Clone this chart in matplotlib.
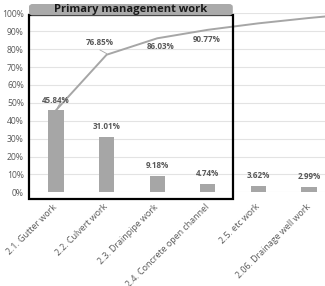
import numpy as np
import matplotlib.pyplot as plt
from matplotlib.patches import Rectangle, FancyBboxPatch
from matplotlib.transforms import ScaledTranslation

plt.rcParams['font.family'] = ['Open Sans', 'DejaVu Sans']

categories = ["2.1. Gutter work", "2.2. Culvert work", "2.3. Drainpipe work",
              "2.4. Concrete open channel", "2.5. etc work", "2.06. Drainage well work"]
share = [45.84, 31.01, 9.18, 4.74, 3.62, 2.99]
# cumulative share; the last point (remaining items) lies off the right edge
cumulative = [45.84, 76.85, 86.03, 90.77, 94.39, 97.38, 100.0]
cum_labels = ["76.85%", "86.03%", "90.77%"]
box_title = "Primary management work"

gray = "#a6a6a6"
txt = "#595959"

fig = plt.figure(figsize=(3.25, 2.86), dpi=100)
ax = fig.add_axes([0.0862, 0.3276, 0.9138, 0.6259])

x = np.arange(len(categories))
ax.bar(x, share, width=0.3, color=gray, zorder=2)
ax.plot(np.arange(len(cumulative)), cumulative, color=gray, lw=1.4, zorder=3)

ax.set_xlim(-0.553, 5.316)
ax.set_ylim(0, 100)
ax.set_yticks(np.arange(0, 101, 10))
ax.set_yticklabels([f"{v}%" for v in range(0, 101, 10)])
ax.grid(axis="y", color="#e3e3e3", lw=0.8, zorder=0)
ax.set_axisbelow(True)
for s in ax.spines.values():
    s.set_visible(False)
ax.tick_params(length=0, labelsize=6.2, labelcolor=txt, pad=3)

ax.set_xticks(x)
ax.set_xticklabels(categories, rotation=45, ha="right", va="center",
                   rotation_mode="anchor", fontsize=6.4, color=txt)
for lab in ax.get_xticklabels():
    lab.set_transform(lab.get_transform() +
                      ScaledTranslation(0.0, -0.09, fig.dpi_scale_trans))

# bar value labels
for i, v in enumerate(share):
    ax.annotate(f"{v:.2f}%", (x[i], v), xytext=(0, 10), textcoords="offset pixels",
                ha="center", va="center", fontsize=5.8, color=txt, fontweight="bold")
ax.plot([x[0] + 0.03, x[0] + 0.08], [share[0] + 1.5, share[0] + 4], color=gray, lw=0.6)

# cumulative labels
offsets = [(-6.5, 12), (3, -8), (-1, -10)]
for k, (lab, off) in enumerate(zip(cum_labels, offsets)):
    i = k + 1
    ax.annotate(lab, (i, cumulative[i]), xytext=off, textcoords="offset pixels",
                ha="center", va="center", fontsize=5.8, color=txt, fontweight="bold")
ax.plot([0.87, 1.0], [79.5, 77.5], color=gray, lw=0.6)

# framed group with title bar
ax.add_patch(Rectangle((-0.534, -3.7), 4.032, 102.7, fill=False, ec="black",
                       lw=1.6, clip_on=False, zorder=4))
ax.add_patch(FancyBboxPatch((-0.52, 99.2), 4.0, 5.6,
                            boxstyle="round,pad=0,rounding_size=0.06",
                            mutation_aspect=20, fc="#aaaaaa", ec="#aaaaaa",
                            clip_on=False, zorder=5))
ax.text(1.482, 102.1, box_title, ha="center", va="center", fontsize=8,
        fontweight="bold", color="#1a1a1a", zorder=6, clip_on=False)

fig.savefig("out.png", dpi=100)
